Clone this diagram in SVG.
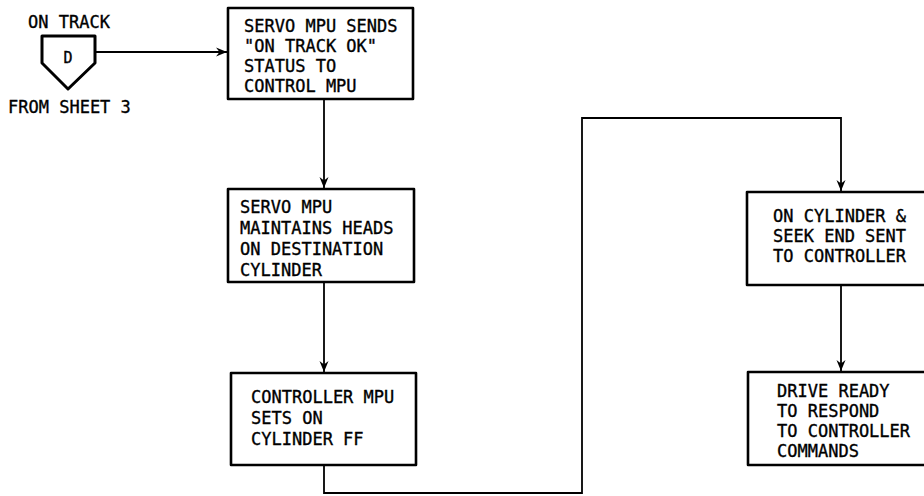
<svg xmlns="http://www.w3.org/2000/svg" width="924" height="496" viewBox="0 0 924 496">
<style>
  .box { fill: #fff; stroke: #000; stroke-width: 2.6; stroke-linejoin: round; }
  .conn { fill: none; stroke: #000; stroke-width: 1.8; stroke-linejoin: miter; }
  text { font-family: "DejaVu Sans Mono", "Liberation Mono", monospace; font-size: 17px; fill: #000; stroke: #000; stroke-width: 0.35; }
</style>
<defs>
  <marker id="arr" markerUnits="userSpaceOnUse" markerWidth="12" markerHeight="10" refX="11" refY="5" orient="auto">
    <path d="M0,0.5 L11,5 L0,9.5 L3.5,5 z" fill="#000"/>
  </marker>
</defs>
<rect width="924" height="496" fill="#fff"/>

<g id="connectors">
  <line class="conn" x1="95" y1="52" x2="227" y2="52" marker-end="url(#arr)"/>
  <line class="conn" x1="324" y1="99" x2="324" y2="188" marker-end="url(#arr)"/>
  <line class="conn" x1="324" y1="282" x2="324" y2="372" marker-end="url(#arr)"/>
  <polyline class="conn" points="324,465 324,493 582,493 582,118 841,118 841,191" marker-end="url(#arr)"/>
  <line class="conn" x1="841" y1="285" x2="841" y2="371" marker-end="url(#arr)"/>
</g>

<g id="connector-D">
  <text x="28" y="28">ON TRACK</text>
  <polygon class="box" points="42,36 95,36 95,63 68,89 42,63" style="stroke-width:3"/>
  <text x="68" y="63" text-anchor="middle" style="font-size:15px">D</text>
  <text x="8" y="113">FROM SHEET 3</text>
</g>

<g id="n1">
  <rect class="box" x="228" y="8" width="185" height="91"/>
  <text x="244" y="32">SERVO MPU SENDS</text>
  <text x="244" y="52">"ON TRACK OK"</text>
  <text x="244" y="72">STATUS TO</text>
  <text x="244" y="92">CONTROL MPU</text>
</g>

<g id="n2">
  <rect class="box" x="228" y="189" width="186" height="93"/>
  <text x="240" y="213">SERVO MPU</text>
  <text x="240" y="234">MAINTAINS HEADS</text>
  <text x="240" y="255">ON DESTINATION</text>
  <text x="240" y="276">CYLINDER</text>
</g>

<g id="n3">
  <rect class="box" x="231" y="373" width="185" height="92"/>
  <text x="251" y="403">CONTROLLER MPU</text>
  <text x="251" y="424">SETS ON</text>
  <text x="251" y="445">CYLINDER FF</text>
</g>

<g id="n4">
  <rect class="box" x="747" y="192" width="190" height="93"/>
  <text x="773" y="222">ON CYLINDER &amp;</text>
  <text x="773" y="242">SEEK END SENT</text>
  <text x="773" y="262">TO CONTROLLER</text>
</g>

<g id="n5">
  <rect class="box" x="748" y="372" width="190" height="93"/>
  <text x="777" y="397">DRIVE READY</text>
  <text x="777" y="417">TO RESPOND</text>
  <text x="777" y="437">TO CONTROLLER</text>
  <text x="777" y="457">COMMANDS</text>
</g>
</svg>
